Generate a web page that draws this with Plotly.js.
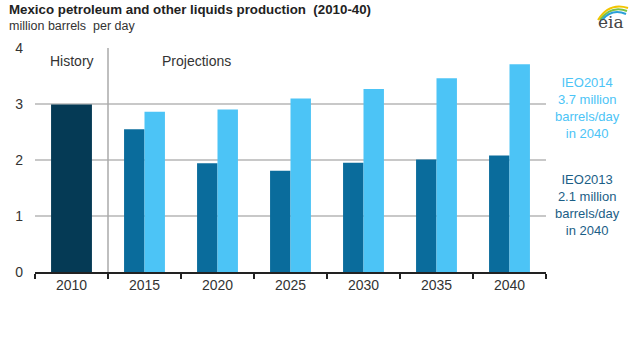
<!DOCTYPE html>
<html><head><meta charset="utf-8">
<script src="https://cdn.plot.ly/plotly-3.0.1.min.js"></script>
<style>body{margin:0;background:#fff}#c{width:640px;height:337px}</style>
</head><body><div id="c"></div>
<script>
const years = ["2010","2015","2020","2025","2030","2035","2040"];
const history = [2.99, null, null, null, null, null, null];
const ieo2013 = [null, 2.55, 1.94, 1.81, 1.95, 2.01, 2.08];
const ieo2014 = [null, 2.86, 2.90, 3.10, 3.27, 3.46, 3.71];
const yTicks = [0, 1, 2, 3, 4];

const font = {family: "Liberation Sans, Arial, sans-serif", color: "#333", size: 14};
const traces = [
  {type:"bar", x: years, y: history, width: 0.56, offset: -0.28, marker:{color:"#053a55"}, hoverinfo:"skip"},
  {type:"bar", x: years, y: ieo2013, width: 0.28, offset: -0.28, marker:{color:"#0a6c9c"}, hoverinfo:"skip"},
  {type:"bar", x: years, y: ieo2014, width: 0.28, offset: 0, marker:{color:"#4cc4f6"}, hoverinfo:"skip"}
];
const layout = {
  width: 640, height: 337,
  margin: {l: 35, r: 94, t: 48, b: 65},
  paper_bgcolor: "#fff", plot_bgcolor: "#fff",
  barmode: "overlay", showlegend: false,
  font: font,
  xaxis: {type:"category", tickson:"boundaries", ticks:"outside", ticklen:5, tickcolor:"#222", tickwidth:1.5,
          showline:true, linecolor:"#222", linewidth:1.5, showgrid:false, tickfont:{size:14, color:"#333"}, fixedrange:true},
  yaxis: {range:[0,4], tickvals: yTicks, showgrid:true, gridcolor:"#c8c8c8", gridwidth:1.2, zeroline:false,
          showline:false, ticks:"", ticklabelstandoff: 11, tickfont:{size:14, color:"#333"}, fixedrange:true},
  shapes: [
    {type:"line", xref:"x", yref:"y", x0:0.5, x1:0.5, y0:0, y1:4, line:{color:"#aaa", width:1.5}},
    {type:"path", xref:"paper", yref:"paper", path:"M 598 20 Q 609 2 628 8", line:{color:"#f2c500", width:2}},
    {type:"path", xref:"paper", yref:"paper", path:"M 600 20 Q 611 5 627 11", line:{color:"#7cc242", width:2}},
    {type:"path", xref:"paper", yref:"paper", path:"M 602 20 Q 612 8 626 14", line:{color:"#2a9fd8", width:2}}
  ],
  annotations: [
    {xref:"paper", yref:"paper", x:-28/511, y:1+(48-10)/224, xanchor:"left", yanchor:"middle", showarrow:false,
     text:"<b>Mexico petroleum and other liquids production  (2010-40)</b>", font:{size:13.3, color:"#222"}},
    {xref:"paper", yref:"paper", x:-28/511, y:1+(48-26)/224, xanchor:"left", yanchor:"middle", showarrow:false,
     text:"million barrels  per day", font:{size:12.5, color:"#333"}},
    {xref:"x", yref:"paper", x:0, y:1-(61-48)/224, xanchor:"center", yanchor:"middle", showarrow:false,
     text:"History", font:{size:14, color:"#333"}},
    {xref:"x", yref:"paper", x:1.71, y:1-(61-48)/224, xanchor:"center", yanchor:"middle", showarrow:false,
     text:"Projections", font:{size:14, color:"#333"}},
    {xref:"paper", yref:"paper", x:1+(587-546)/511, y:1-(108-48)/224, xanchor:"center", yanchor:"middle", showarrow:false,
     text:"IEO2014<br>3.7 million<br>barrels/day<br>in 2040", align:"center", font:{size:13, color:"#4cc4f6"}},
    {xref:"paper", yref:"paper", x:1+(587-546)/511, y:1-(205-48)/224, xanchor:"center", yanchor:"middle", showarrow:false,
     text:"IEO2013<br>2.1 million<br>barrels/day<br>in 2040", align:"center", font:{size:13, color:"#1b5e86"}},
    {xref:"paper", yref:"paper", x:1+(611-546)/511, y:1+(48-22)/224, xanchor:"center", yanchor:"middle", showarrow:false,
     text:"eia", font:{family:"DejaVu Serif, serif", size:17, color:"#444"}}
  ]
};
// convert logo path pixel coords to paper coords
layout.shapes.slice(1).forEach(s => {
  s.path = s.path.replace(/(\d+) (\d+)/g, (m, px, py) => {
    const xp = ((+px) - 35) / 511, yp = (272 - (+py)) / 224;
    return xp.toFixed(4) + " " + yp.toFixed(4);
  });
});
Plotly.newPlot("c", traces, layout, {displayModeBar:false, staticPlot:true});
</script></body></html>
